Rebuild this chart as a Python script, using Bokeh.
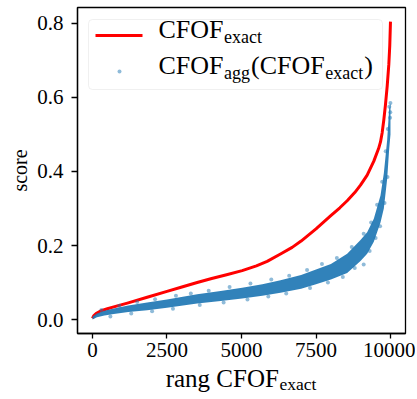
from bokeh.plotting import figure
from bokeh.layouts import column
from bokeh.models import (Range1d, FixedTicker, Label, BoxAnnotation, Arrow,
                          PrintfTickFormatter)
from bokeh.core.properties import value
from bokeh.embed import file_html
from bokeh.resources import INLINE

# ---- data ----
cfof_rank = [0, 40, 120, 270, 500, 715, 1200, 1835, 2500, 3000, 3513, 4000,
             4500, 5022, 5500, 5861, 6309, 6700, 7000, 7500, 7987, 8300, 8546,
             8800, 8993, 9217, 9440, 9600, 9664, 9720, 9776, 9830, 9888, 9944,
             9975, 9999]
cfof_exact = [0.003, 0.010, 0.016, 0.023, 0.029, 0.034, 0.045, 0.060, 0.076,
              0.088, 0.100, 0.111, 0.121, 0.132, 0.145, 0.157, 0.177, 0.195,
              0.212, 0.245, 0.280, 0.302, 0.321, 0.343, 0.363, 0.390, 0.428,
              0.462, 0.480, 0.505, 0.540, 0.580, 0.630, 0.690, 0.740, 0.805]

band_rank = [0, 150, 400, 715, 1200, 1835, 2500, 3513, 4300, 5022, 5700, 6309,
             7000, 7500, 8000, 8546, 8993, 9217, 9440, 9664, 9776, 9888, 9955, 9999]
band_lo = [0.000, 0.006, 0.011, 0.015, 0.020, 0.025, 0.032, 0.043, 0.050, 0.057,
           0.064, 0.072, 0.083, 0.095, 0.108, 0.126, 0.158, 0.178, 0.210, 0.262,
           0.300, 0.380, 0.460, 0.500]
band_hi = [0.008, 0.016, 0.024, 0.030, 0.038, 0.046, 0.054, 0.068, 0.077, 0.086,
           0.095, 0.106, 0.120, 0.135, 0.150, 0.178, 0.215, 0.236, 0.272, 0.335,
           0.395, 0.485, 0.570, 0.585]

agg_rank = [300, 900, 1500, 2100, 2800, 3300, 3900, 4600, 5300, 6000, 6600, 7200,
            7700, 8200, 8700, 9100, 9350, 9550, 9720, 9840, 9910, 9960, 9985,
            9993, 9998,
            600, 1300, 2000, 2700, 3600, 4400, 5200, 5900, 6500, 7300, 7900, 8400,
            8800, 9100, 9300, 9500, 9650, 9800, 9900]
agg_score = [0.026, 0.037, 0.047, 0.055, 0.064, 0.070, 0.078, 0.088, 0.097, 0.108,
             0.118, 0.134, 0.150, 0.166, 0.196, 0.232, 0.262, 0.310, 0.372, 0.455,
             0.515, 0.575, 0.545, 0.560, 0.585,
             0.008, 0.016, 0.022, 0.029, 0.039, 0.046, 0.054, 0.062, 0.070, 0.085,
             0.100, 0.115, 0.139, 0.149, 0.185, 0.220, 0.252, 0.315, 0.385]

x_ticks = [0, 2500, 5000, 7500, 10000]
y_ticks = [0.0, 0.2, 0.4, 0.6, 0.8]

BLUE = "#1f77b4"
FONT = "Liberation Serif"
MAIN, SUB = 26, 18
K_BASE = 0.33  # empirical lift so the drawn baseline lands where intended
LEG_LIFT = 4

# Times-metric widths, used to chain subscripts after their base text
W = {'C': .667, 'F': .556, 'O': .722, 'e': .444, 'x': .5, 'a': .444, 'c': .444,
     't': .278, 'g': .5, '(': .333, ')': .333, 'r': .333, 'n': .5, ' ': .25}


def tw(s, size):
    return sum(W[ch] for ch in s) * size


def chain(parts, x0, main=MAIN, sub=SUB):
    out, x = [], x0
    for txt, is_sub in parts:
        size = sub if is_sub else main
        out.append((txt, x, is_sub, size))
        x += tw(txt, size) + (1 if is_sub else 0.5)
    return out, x - x0


W_FIG, H_MAIN, H_LAB = 415, 366, 31
BL, BR, BT, BB = 77, 10, 7, 33
p = figure(width=W_FIG, height=H_MAIN, output_backend="svg", toolbar_location=None,
           x_range=Range1d(-503, 10503), y_range=Range1d(-0.0378, 0.8432),
           min_border_left=BL, min_border_right=BR, min_border_top=BT,
           min_border_bottom=BB)
p.background_fill_color = "white"
p.border_fill_color = "white"
p.xgrid.visible = False
p.ygrid.visible = False
p.outline_line_color = "black"
p.outline_line_width = 1.3
p.outline_line_alpha = 1.0

# red exact curve
p.line(cfof_rank, cfof_exact, line_color="red", line_width=3, line_join="round")
# aggregated scatter: dense body + individual points
p.varea(x=band_rank, y1=band_lo, y2=band_hi, fill_color=BLUE, fill_alpha=0.92)
p.scatter(agg_rank, agg_score, size=4, fill_color=BLUE, line_color=None,
          fill_alpha=0.5)

for ax in (p.xaxis[0], p.yaxis[0]):
    ax.axis_line_color = "black"
    ax.axis_line_width = 1.3
    ax.major_tick_line_color = "black"
    ax.major_tick_line_width = 1.3
    ax.major_tick_in = 0
    ax.minor_tick_line_color = None
    ax.major_label_text_font = FONT
    ax.major_label_text_font_size = "21px"
    ax.major_label_text_color = "black"
p.xaxis.major_tick_out = 5
p.xaxis.major_label_standoff = 4
p.yaxis.major_tick_out = 6
p.yaxis.major_label_standoff = 8

p.xaxis.ticker = FixedTicker(ticks=x_ticks)
p.yaxis.ticker = FixedTicker(ticks=y_ticks)
p.xaxis.formatter = PrintfTickFormatter(format="%d")
p.yaxis.formatter = PrintfTickFormatter(format="%.1f")

p.yaxis.axis_label = "score"
p.yaxis.axis_label_text_font = FONT
p.yaxis.axis_label_text_font_size = "20px"
p.yaxis.axis_label_text_font_style = "normal"
p.yaxis.axis_label_text_color = "black"
p.yaxis.axis_label_standoff = 3

# ---- legend (inside the frame, screen units from the frame's bottom-left) ----
FB = H_MAIN - BB  # frame bottom in canvas px


def sy(page_y):
    return FB - page_y


def sx(page_x):
    return page_x - BL


p.add_layout(BoxAnnotation(left=sx(88), right=sx(382), top=sy(19), bottom=sy(89),
                           left_units="screen", right_units="screen",
                           top_units="screen", bottom_units="screen",
                           fill_color="white", fill_alpha=0.8,
                           line_color="#cccccc", line_width=1, border_radius=4))
p.add_layout(Arrow(x_start=sx(95), y_start=sy(35), x_end=sx(142), y_end=sy(35),
                   start_units="screen", end_units="screen", end=None,
                   line_color="red", line_width=3))
p.add_layout(BoxAnnotation(left=sx(117), right=sx(121), top=sy(69), bottom=sy(73),
                           left_units="screen", right_units="screen",
                           top_units="screen", bottom_units="screen",
                           fill_color=BLUE, fill_alpha=0.5, line_color=None,
                           border_radius=2))


def add_legend_text(parts, x0, y0):
    items, _ = chain(parts, x0)
    for txt, x, is_sub, size in items:
        y = y0 - (4 if is_sub else 0) + K_BASE * size + LEG_LIFT
        p.add_layout(Label(x=x, y=y, x_units="screen",
                           y_units="screen", text=txt, text_font=FONT,
                           text_font_size=f"{size}px", text_color="black",
                           text_baseline="alphabetic", text_align="left"))


add_legend_text([("CFOF", False), ("exact", True)], sx(158), sy(42))
add_legend_text([("CFOF", False), ("agg", True), ("(CFOF", False),
                 ("exact", True), (")", False)], sx(158), sy(78))

# ---- x axis label as its own strip under the plot ----
# (its frame is aligned with the main frame by the column layout, so the
#  x range is given in page pixels of that frame)
lab = figure(width=W_FIG, height=H_LAB, output_backend="svg", toolbar_location=None,
             x_range=Range1d(BL, W_FIG - BR), y_range=Range1d(0, H_LAB),
             x_axis_location=None, y_axis_location=None, min_border=0,
             min_border_left=BL, min_border_right=BR, min_border_top=0,
             min_border_bottom=0)
lab.xgrid.visible = False
lab.ygrid.visible = False
lab.outline_line_color = None
lab.background_fill_color = "white"
lab.border_fill_color = "white"

LX_MAIN, LX_SUB = 25, 17.5
parts, total = chain([("rang CFOF", False), ("exact", True)], 0, LX_MAIN, LX_SUB)
center = BL + (W_FIG - BL - BR) / 2
for txt, x, is_sub, size in parts:
    base = 7.5 if is_sub else 11
    lab.text(x=[center - total / 2 + x], y=[base + K_BASE * size], text=[txt],
             text_font=value(FONT), text_font_size=value(f"{size}px"),
             text_color="black", text_baseline="alphabetic", text_align="left")

layout = column(p, lab, spacing=0)
open("out.html", "w").write(file_html(layout, INLINE))
